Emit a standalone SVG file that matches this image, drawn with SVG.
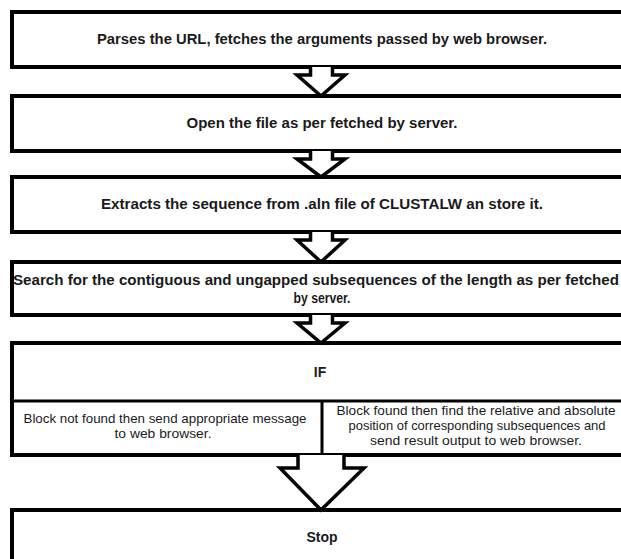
<svg xmlns="http://www.w3.org/2000/svg" width="621" height="559" viewBox="0 0 621 559">
<style>
.box{fill:#fff;stroke:#000;stroke-width:4}
.div{fill:none;stroke:#000;stroke-width:3}
.arr{fill:#fff;stroke:#000;stroke-width:3.5;stroke-linejoin:miter}
.t{font-family:"Liberation Sans",Arial,sans-serif;font-weight:bold;font-size:14px;fill:#1a1a1a;text-anchor:middle}
.s{font-family:"Liberation Sans",Arial,sans-serif;font-weight:normal;font-size:13px;fill:#1a1a1a;text-anchor:middle}
</style>
<rect width="621" height="559" fill="#fff"/>
<g id="n1"><rect class="box" x="12" y="12" width="640" height="55"/>
<text class="t" x="322" y="44" textLength="450" lengthAdjust="spacingAndGlyphs">Parses the URL, fetches the arguments passed by web browser.</text></g>
<g id="n2"><rect class="box" x="12" y="96" width="640" height="55"/>
<text class="t" x="322" y="128" textLength="271" lengthAdjust="spacingAndGlyphs">Open the file as per fetched by server.</text></g>
<g id="n3"><rect class="box" x="12" y="177" width="640" height="55"/>
<text class="t" x="322" y="209" textLength="442" lengthAdjust="spacingAndGlyphs">Extracts the sequence from .aln file of CLUSTALW an store it.</text></g>
<g id="n4"><rect class="box" x="12" y="262" width="640" height="53"/>
<text class="t" x="316" y="285" textLength="606" lengthAdjust="spacingAndGlyphs">Search for the contiguous and ungapped subsequences of the length as per fetched</text>
<text class="t" x="322" y="303" textLength="57" lengthAdjust="spacingAndGlyphs">by server.</text></g>
<g id="n5"><rect class="box" x="12" y="343" width="640" height="112"/>
<line class="div" x1="12" y1="401" x2="640" y2="401"/>
<line class="div" x1="322" y1="401" x2="322" y2="455"/>
<text class="t" x="320" y="377">IF</text>
<text class="s" x="165" y="423" textLength="283" lengthAdjust="spacingAndGlyphs">Block not found then send appropriate message</text>
<text class="s" x="163" y="438" textLength="97" lengthAdjust="spacingAndGlyphs">to web browser.</text>
<text class="s" x="476" y="415" textLength="279" lengthAdjust="spacingAndGlyphs">Block found then find the relative and absolute</text>
<text class="s" x="477" y="430" textLength="257" lengthAdjust="spacingAndGlyphs">position of corresponding subsequences and</text>
<text class="s" x="476" y="445" textLength="212" lengthAdjust="spacingAndGlyphs">send result output to web browser.</text></g>
<g id="n6"><rect class="box" x="12" y="510" width="640" height="80"/>
<text class="t" x="322" y="542">Stop</text></g>
<g id="connectors">
<path class="arr" d="M310.5,67 V75 H297 L321,96 L345,75 H332.5 V67"/>
<path class="arr" d="M310.5,151 V159 H297 L321,177 L345,159 H332.5 V151"/>
<path class="arr" d="M310.5,232 V240 H297 L321,262 L345,240 H332.5 V232"/>
<path class="arr" d="M310.5,315 V323 H297 L321,343 L345,323 H332.5 V315"/>
<path class="arr" d="M298,455 V468 H280 L321,510 L364,468 H344 V455"/>
</g>
</svg>
